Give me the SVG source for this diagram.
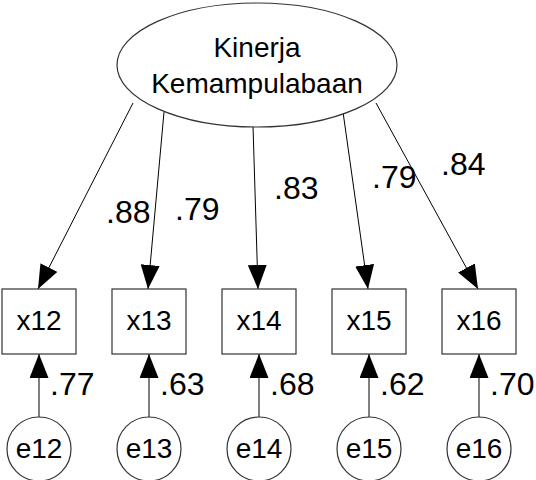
<svg xmlns="http://www.w3.org/2000/svg" width="536" height="480" viewBox="0 0 536 480">
  <style>
    text { font-family: "Liberation Sans", Arial, sans-serif; font-size: 28px; fill: #000; }
    .c { text-anchor: middle; }
    .est { font-size: 32px; }
    .shape { fill: #fff; stroke: #333; stroke-width: 1.2; }
    .edge { stroke: #000; stroke-width: 1; fill: none; marker-end: url(#arrow); }
  </style>
  <defs>
    <marker id="arrow" markerUnits="userSpaceOnUse" markerWidth="24" markerHeight="19" refX="24" refY="9.5" orient="auto">
      <path d="M0,0 L24,9.5 L0,19 z" fill="#000"/>
    </marker>
  </defs>

  <!-- loadings and error paths -->
  <g id="connectors">
    <line class="edge" x1="133" y1="103" x2="38" y2="289"/>
    <line class="edge" x1="164" y1="112" x2="148" y2="289"/>
    <line class="edge" x1="253" y1="126" x2="258" y2="289"/>
    <line class="edge" x1="343" y1="112" x2="368" y2="289"/>
    <line class="edge" x1="376" y1="103" x2="478" y2="289"/>
    <line class="edge" x1="39" y1="417" x2="39" y2="354"/>
    <line class="edge" x1="149" y1="417" x2="149" y2="354"/>
    <line class="edge" x1="259" y1="417" x2="259" y2="354"/>
    <line class="edge" x1="369" y1="417" x2="369" y2="354"/>
    <line class="edge" x1="479" y1="417" x2="479" y2="354"/>
  </g>

  <!-- latent construct -->
  <g id="kinerja">
    <ellipse class="shape" cx="257" cy="65" rx="140" ry="62"/>
    <text class="c" x="257" y="57">Kinerja</text>
    <text class="c" x="257" y="93">Kemampulabaan</text>
  </g>

  <!-- indicators -->
  <g id="x12"><rect class="shape" x="2" y="289" width="74" height="65"/><text class="c" x="39" y="330">x12</text></g>
  <g id="x13"><rect class="shape" x="112" y="289" width="74" height="65"/><text class="c" x="149" y="330">x13</text></g>
  <g id="x14"><rect class="shape" x="222" y="289" width="74" height="65"/><text class="c" x="259" y="330">x14</text></g>
  <g id="x15"><rect class="shape" x="332" y="289" width="74" height="65"/><text class="c" x="369" y="330">x15</text></g>
  <g id="x16"><rect class="shape" x="442" y="289" width="74" height="65"/><text class="c" x="479" y="330">x16</text></g>

  <!-- error terms -->
  <g id="e12"><circle class="shape" cx="39" cy="449" r="32"/><text class="c" x="39" y="458">e12</text></g>
  <g id="e13"><circle class="shape" cx="149" cy="449" r="32"/><text class="c" x="149" y="458">e13</text></g>
  <g id="e14"><circle class="shape" cx="259" cy="449" r="32"/><text class="c" x="259" y="458">e14</text></g>
  <g id="e15"><circle class="shape" cx="369" cy="449" r="32"/><text class="c" x="369" y="458">e15</text></g>
  <g id="e16"><circle class="shape" cx="479" cy="449" r="32"/><text class="c" x="479" y="458">e16</text></g>

  <!-- loading estimates -->
  <g id="loadings">
    <text class="est" x="106" y="223">.88</text>
    <text class="est" x="175" y="220">.79</text>
    <text class="est" x="274" y="199">.83</text>
    <text class="est" x="372" y="188">.79</text>
    <text class="est" x="441" y="175">.84</text>
  </g>

  <!-- squared multiple correlations -->
  <g id="r2">
    <text class="est" x="50" y="395">.77</text>
    <text class="est" x="160" y="395">.63</text>
    <text class="est" x="270" y="395">.68</text>
    <text class="est" x="380" y="395">.62</text>
    <text class="est" x="490" y="395">.70</text>
  </g>
</svg>
